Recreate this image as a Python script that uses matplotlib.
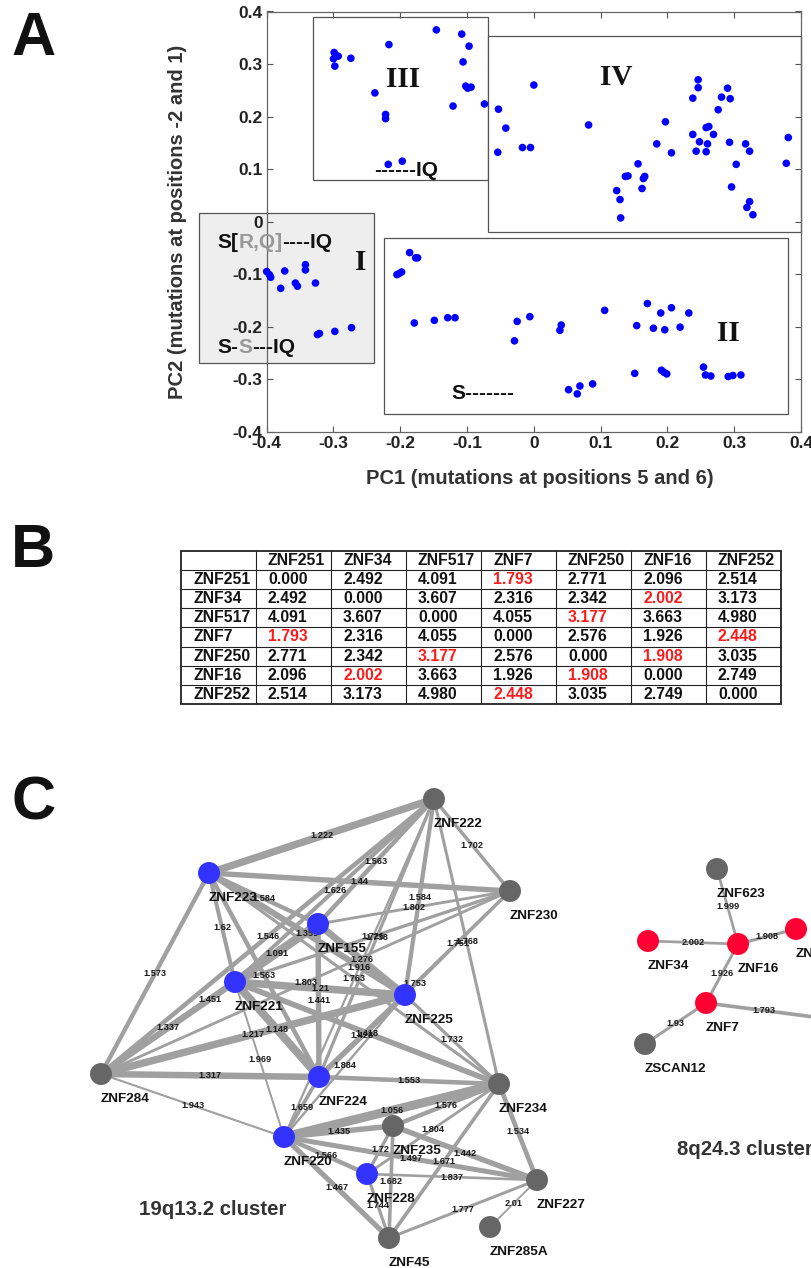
import numpy as np
import matplotlib
matplotlib.use("Agg")
import matplotlib.pyplot as plt
from matplotlib.patches import Rectangle

plt.rcParams['font.family'] = ['Liberation Sans', 'DejaVu Sans']
plt.rcParams['axes.unicode_minus'] = False

# ---- panel A: PCA scores (PC1, PC2) per group ----
grp1_pc1 = [-0.400, -0.396, -0.394, -0.373, -0.379, -0.357, -0.354, -0.342, -0.342, -0.327,
            -0.324, -0.321, -0.298, -0.273]
grp1_pc2 = [-0.095, -0.101, -0.106, -0.094, -0.127, -0.117, -0.123, -0.082, -0.092, -0.117,
            -0.215, -0.213, -0.209, -0.202]

grp2_pc1 = [-0.186, -0.177, -0.174, -0.205, -0.202, -0.198, -0.179, -0.149, -0.129, -0.118,
            -0.025, -0.006, -0.029, 0.041, 0.039, 0.106, 0.170, 0.190, 0.206, 0.232,
            0.154, 0.179, 0.196, 0.219, 0.052, 0.065, 0.069, 0.088, 0.151, 0.191,
            0.195, 0.199, 0.254, 0.257, 0.265, 0.291, 0.298, 0.310]
grp2_pc2 = [-0.059, -0.069, -0.069, -0.101, -0.099, -0.096, -0.193, -0.188, -0.183, -0.183,
            -0.190, -0.181, -0.227, -0.197, -0.207, -0.169, -0.156, -0.174, -0.164, -0.174,
            -0.198, -0.203, -0.206, -0.201, -0.320, -0.328, -0.313, -0.309, -0.289, -0.283,
            -0.287, -0.290, -0.277, -0.292, -0.294, -0.295, -0.293, -0.292]

grp3_pc1 = [-0.299, -0.293, -0.300, -0.298, -0.274, -0.217, -0.238, -0.222, -0.222, -0.218,
            -0.197, -0.146, -0.108, -0.097, -0.106, -0.102, -0.094, -0.099, -0.121]
grp3_pc2 = [0.322, 0.315, 0.310, 0.296, 0.311, 0.337, 0.245, 0.204, 0.196, 0.109,
            0.115, 0.365, 0.357, 0.334, 0.304, 0.258, 0.256, 0.254, 0.220]

grp4_pc1 = [-0.074, -0.053, -0.042, -0.054, -0.017, -0.005, 0.000, 0.082, 0.124, 0.129,
            0.130, 0.137, 0.141, 0.156, 0.162, 0.164, 0.166, 0.184, 0.197, 0.206,
            0.238, 0.246, 0.246, 0.238, 0.248, 0.243, 0.258, 0.262, 0.260, 0.258,
            0.269, 0.276, 0.281, 0.290, 0.294, 0.293, 0.303, 0.296, 0.317, 0.323,
            0.323, 0.319, 0.328, 0.381, 0.378]
grp4_pc2 = [0.224, 0.214, 0.178, 0.132, 0.141, 0.141, 0.260, 0.184, 0.059, 0.042,
            0.007, 0.086, 0.087, 0.110, 0.063, 0.082, 0.086, 0.148, 0.190, 0.131,
            0.235, 0.270, 0.255, 0.166, 0.152, 0.134, 0.179, 0.181, 0.148, 0.133,
            0.166, 0.213, 0.237, 0.254, 0.234, 0.151, 0.109, 0.066, 0.148, 0.134,
            0.038, 0.027, 0.013, 0.160, 0.111]

# ---- panel B: distance matrix ----
genes = ["ZNF251", "ZNF34", "ZNF517", "ZNF7", "ZNF250", "ZNF16", "ZNF252"]
dist = np.array([
    [0.000, 2.492, 4.091, 1.793, 2.771, 2.096, 2.514],
    [2.492, 0.000, 3.607, 2.316, 2.342, 2.002, 3.173],
    [4.091, 3.607, 0.000, 4.055, 3.177, 3.663, 4.980],
    [1.793, 2.316, 4.055, 0.000, 2.576, 1.926, 2.448],
    [2.771, 2.342, 3.177, 2.576, 0.000, 1.908, 3.035],
    [2.096, 2.002, 3.663, 1.926, 1.908, 0.000, 2.749],
    [2.514, 3.173, 4.980, 2.448, 3.035, 2.749, 0.000],
])

# ---- panel C: networks (node, node, distance) ----
edges_19q = [
    ("ZNF223", "ZNF222", 1.222), ("ZNF223", "ZNF230", 1.44), ("ZNF223", "ZNF155", 1.584),
    ("ZNF223", "ZNF221", 1.62), ("ZNF223", "ZNF284", 1.573), ("ZNF223", "ZNF224", 1.563),
    ("ZNF223", "ZNF225", 1.355), ("ZNF223", "ZNF234", 1.763),
    ("ZNF222", "ZNF230", 1.702), ("ZNF222", "ZNF155", 1.563), ("ZNF222", "ZNF221", 1.626),
    ("ZNF222", "ZNF284", 1.546), ("ZNF222", "ZNF225", 1.584), ("ZNF222", "ZNF224", 1.738),
    ("ZNF222", "ZNF220", 1.916), ("ZNF222", "ZNF234", 1.768),
    ("ZNF230", "ZNF155", 1.802), ("ZNF230", "ZNF221", 1.726), ("ZNF230", "ZNF225", 1.751),
    ("ZNF230", "ZNF284", 1.803), ("ZNF230", "ZNF224", 1.753),
    ("ZNF155", "ZNF221", 1.091), ("ZNF155", "ZNF225", 1.276), ("ZNF155", "ZNF224", 1.441),
    ("ZNF155", "ZNF284", 1.451),
    ("ZNF221", "ZNF225", 1.21), ("ZNF221", "ZNF224", 1.148), ("ZNF221", "ZNF284", 1.337),
    ("ZNF221", "ZNF220", 1.969), ("ZNF221", "ZNF234", 1.418),
    ("ZNF284", "ZNF225", 1.217), ("ZNF284", "ZNF224", 1.317), ("ZNF284", "ZNF220", 1.943),
    ("ZNF225", "ZNF224", 1.428), ("ZNF225", "ZNF220", 1.884), ("ZNF225", "ZNF234", 1.732),
    ("ZNF224", "ZNF220", 1.659), ("ZNF224", "ZNF234", 1.553),
    ("ZNF220", "ZNF234", 1.056), ("ZNF220", "ZNF235", 1.435), ("ZNF220", "ZNF228", 1.566),
    ("ZNF220", "ZNF227", 1.497), ("ZNF220", "ZNF45", 1.467),
    ("ZNF234", "ZNF235", 1.576), ("ZNF234", "ZNF228", 1.804), ("ZNF234", "ZNF227", 1.534),
    ("ZNF234", "ZNF45", 1.671),
    ("ZNF235", "ZNF228", 1.72), ("ZNF235", "ZNF227", 1.442), ("ZNF235", "ZNF45", 1.682),
    ("ZNF228", "ZNF227", 1.837), ("ZNF228", "ZNF45", 1.744),
    ("ZNF227", "ZNF45", 1.777), ("ZNF227", "ZNF285A", 2.01),
]
edges_8q = [
    ("ZNF623", "ZNF16", 1.999), ("ZNF34", "ZNF16", 2.002), ("ZNF16", "ZNF250", 1.908),
    ("ZNF16", "ZNF7", 1.926), ("ZNF7", "ZNF251", 1.793), ("ZNF7", "ZSCAN12", 1.93),
]
blue_nodes = ["ZNF223", "ZNF155", "ZNF221", "ZNF225", "ZNF224", "ZNF220", "ZNF228"]
red_nodes = ["ZNF34", "ZNF16", "ZNF250", "ZNF7", "ZNF251"]

# layout of the network drawing (pixel positions)
node_pos = {
    "ZNF222": (434, 799), "ZNF223": (209, 873), "ZNF155": (318, 924), "ZNF230": (510, 891),
    "ZNF221": (235, 982), "ZNF225": (405, 995), "ZNF284": (101, 1074), "ZNF224": (319, 1077),
    "ZNF234": (499, 1084), "ZNF220": (284, 1137), "ZNF235": (393, 1126), "ZNF228": (367, 1174),
    "ZNF227": (537, 1180), "ZNF285A": (490, 1227), "ZNF45": (389, 1238),
    "ZNF623": (717, 869), "ZNF34": (648, 941), "ZNF16": (738, 944), "ZNF250": (796, 929),
    "ZNF7": (706, 1003), "ZNF251": (822, 1018), "ZSCAN12": (645, 1044),
}

W, H = 811, 1268
fig = plt.figure(figsize=(W / 100, H / 100), dpi=100)

# ================= panel A =================
ax = fig.add_axes([266.7 / W, 1 - 431.7 / H, (801 - 266.7) / W, (431.7 - 11.5) / H])
ax.set_xlim(-0.4, 0.4)
ax.set_ylim(-0.4, 0.4)

boxes = [  # (x0, y0, x1, y1, face)
    (-0.502, -0.270, -0.239, 0.017, '#eeeeee'),
    (-0.224, -0.367, 0.380, -0.032, 'white'),
    (-0.330, 0.080, -0.068, 0.389, 'white'),
    (-0.068, -0.020, 0.400, 0.353, 'white'),
]
for x0, y0, x1, y1, fc in boxes:
    ax.add_patch(Rectangle((x0, y0), x1 - x0, y1 - y0, facecolor=fc, edgecolor='#555555',
                           lw=0.9, clip_on=False, zorder=1))

for px, py in [(grp1_pc1, grp1_pc2), (grp2_pc1, grp2_pc2),
               (grp3_pc1, grp3_pc2), (grp4_pc1, grp4_pc2)]:
    ax.scatter(px, py, s=30, color='#0000ff', edgecolors='none', zorder=3, clip_on=False)

roman = dict(fontsize=21, fontweight='bold', family='Liberation Serif', ha='center',
             va='center', color='#111111')
ax.text(-0.196, 0.271, 'III', **roman)
ax.text(0.123, 0.275, 'IV', **roman)
ax.text(0.292, -0.213, 'II', **roman)
ax.text(-0.260, -0.078, 'I', **roman)

motif = dict(fontsize=15, fontweight='bold', va='bottom', ha='left')


def chain_text(x, y, parts):
    t = ax.text(x, y, parts[0][0], color=parts[0][1], zorder=4, **motif)
    for s, c in parts[1:]:
        t = ax.annotate(s, xy=(1, 0), xycoords=t, color=c, zorder=4, **motif)


chain_text(-0.474, -0.058, [('S[', '#111111'), ('R,Q]', '#999999'), ('----IQ', '#111111')])
chain_text(-0.474, -0.258, [('S-', '#111111'), ('S', '#999999'), ('---IQ', '#111111')])
ax.text(-0.239, 0.079, '------IQ', color='#111111', zorder=4, **motif)
ax.text(-0.123, -0.346, 'S-------', color='#111111', zorder=4, **motif)

ticks = np.round(np.arange(-0.4, 0.41, 0.1), 1)
ax.set_xticks(ticks)
ax.set_yticks(ticks)
lab = ['0' if abs(t) < 1e-9 else f'{t:g}' for t in ticks]
ax.set_xticklabels(lab)
ax.set_yticklabels(lab)
ax.tick_params(direction='in', length=4, top=True, right=True, labelsize=12.5,
               colors='#555555', labelcolor='#222222', width=0.8, pad=3)
for lbl in ax.get_xticklabels() + ax.get_yticklabels():
    lbl.set_fontweight('bold')
for sp in ax.spines.values():
    sp.set_color('#666666')
    sp.set_linewidth(0.9)
    sp.set_zorder(2)
ax.set_facecolor('none')
ax.set_xlabel('PC1 (mutations at positions 5 and 6)', fontsize=14.5, fontweight='bold',
              color='#333333')
ax.set_ylabel('PC2 (mutations at positions -2 and 1)', fontsize=14.5, fontweight='bold',
              color='#333333')
ax.xaxis.set_label_coords(0.511, -0.088)
ax.yaxis.set_label_coords(-0.15, 0.5)

# ================= overlay for panels B and C (pixel coordinates) =================
ov = fig.add_axes([0, 0, 1, 1], zorder=-1)
ov.set_xlim(0, W)
ov.set_ylim(H, 0)
ov.axis('off')

for letter, yb in [('A', 55), ('B', 567), ('C', 819)]:
    ov.text(11, yb, letter, fontsize=44, fontweight='bold', va='baseline', ha='left',
            color='#111111')

# ---- table ----
x0, y0, cw, rh = 181, 551, 75, 19.1
ncol = len(genes) + 1
nrow = len(genes) + 1
for i in range(ncol + 1):
    lw = 1.3 if i in (0, ncol) else 0.8
    ov.plot([x0 + i * cw] * 2, [y0, y0 + nrow * rh], color='#222222', lw=lw,
            solid_capstyle='butt')
for r in range(nrow + 1):
    lw = 1.3 if r in (0, nrow) else 0.8
    ov.plot([x0, x0 + ncol * cw], [y0 + r * rh] * 2, color='#222222', lw=lw)

cell = dict(fontsize=11.3, fontweight='bold', va='center', ha='left')
for j, g in enumerate(genes):
    ov.text(x0 + (j + 1) * cw + 12, y0 + 0.5 * rh, g, color='#111111', **cell)
    ov.text(x0 + 12, y0 + (j + 1.5) * rh, g, color='#111111', **cell)
off = dist + np.eye(len(genes)) * 99
row_min = off.min(axis=1)
for i in range(len(genes)):
    for j in range(len(genes)):
        d = dist[i, j]
        red = i != j and (d == row_min[i] or d == row_min[j])
        ov.text(x0 + (j + 1) * cw + 12, y0 + (i + 1.5) * rh, f'{d:.3f}',
                color='#ff1a1a' if red else '#111111', **cell)


# ---- networks ----
def edge_px(d, extra=0.0):
    return 1.8 + extra + 7.2 * (max(2.05 - d, 0) / 0.994) ** 1.4


for edges, extra in [(edges_19q, 0.0), (edges_8q, 0.8)]:
    for a, b, d in edges:
        (xa, ya), (xb, yb) = node_pos[a], node_pos[b]
        ov.plot([xa, xb], [ya, yb], color='#a0a0a0', lw=edge_px(d, extra) * 0.72,
                solid_capstyle='butt', zorder=1, clip_on=False)
    for a, b, d in edges:
        (xa, ya), (xb, yb) = node_pos[a], node_pos[b]
        ov.text((xa + xb) / 2, (ya + yb) / 2, f'{d:g}', fontsize=6.6, fontweight='bold',
                ha='center', va='center', color='#1a1a1a', zorder=2)

for name, (nx, ny) in node_pos.items():
    col = '#3333ff' if name in blue_nodes else ('#ff0033' if name in red_nodes else '#666666')
    ov.scatter([nx], [ny], s=250, color=col, edgecolors='none', zorder=3, clip_on=False)
    if nx < W:
        ov.text(nx, ny + 28, name, fontsize=9.7, fontweight='bold', ha='left', va='baseline',
                color='#111111', zorder=4, clip_on=False)

ov.text(139, 1215, '19q13.2 cluster', fontsize=14.7, fontweight='bold', color='#333333',
        va='baseline')
ov.text(677, 1155, '8q24.3 cluster', fontsize=14.7, fontweight='bold', color='#333333',
        va='baseline')

fig.savefig('out.png', dpi=100)
